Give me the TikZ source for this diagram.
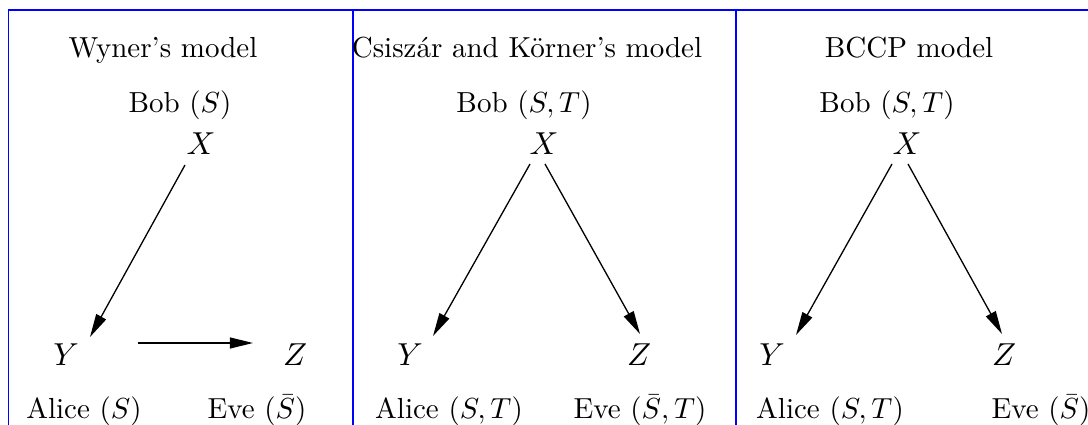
\documentclass[tikz,border=0pt]{standalone}
\usetikzlibrary{arrows.meta,calc}
\begin{document}
\begin{tikzpicture}[x=0.3448pt,y=-0.3448pt,
  lab/.style={anchor=base,inner sep=0pt},
  var/.style={anchor=base,inner sep=0pt,font=\fontsize{11.3}{13}\selectfont},
  arr/.style={line width=0.45pt,-{Triangle[length=8pt,width=3.8pt]}},
  frame/.style={blue,line width=0.45pt}]
\useasboundingbox (0,0) rectangle (1088,425);
\clip (0,0) rectangle (1088,425);
% frame
\draw[frame] (1100,10) -- (8.5,10) -- (8.5,440);
\draw[frame] (353,10) -- (353,440);
\draw[frame] (736,10) -- (736,440);
% Wyner
\node[lab] (t1) at (163,58) {Wyner's model};
\node[lab] (b1) at (180,113) {Bob $(S)$};
\node[var] (x1) at (201,155) {$X$};
\node[var] (y1) at (66,366) {$Y$};
\node[var] (z1) at (295,366) {$Z$};
\node[lab] (a1) at (84,419) {Alice $(S)$};
\node[lab] (e1) at (257,419) {Eve $(\bar S)$};
\draw[arr] ($(x1.base)+(-16,10)$) -- ($(y1.base)+(24,-29)$);
\draw[arr] ($(y1.base)+(72,-23)$) -- ($(z1.base)+(-42,-23)$);
% Csiszar and Korner
\node[lab] (t2) at (527,58) {Csiszár and Körner's model};
\node[lab] (b2) at (524,113) {Bob $(S,T)$};
\node[var] (x2) at (544,155) {$X$};
\node[var] (y2) at (410,366) {$Y$};
\node[var] (z2) at (639,366) {$Z$};
\node[lab] (a2) at (449,419) {Alice $(S,T)$};
\node[lab] (e2) at (640,419) {Eve $(\bar S,T)$};
\draw[arr] ($(x2.base)+(-14,9)$) -- ($(y2.base)+(23,-30)$);
\draw[arr] ($(x2.base)+(1,9)$) -- ($(z2.base)+(1,-32)$);
% BCCP
\node[lab] (t3) at (909,58) {BCCP model};
\node[lab] (b3) at (887,113) {Bob $(S,T)$};
\node[var] (x3) at (907,155) {$X$};
\node[var] (y3) at (772,366) {$Y$};
\node[var] (z3) at (1004,366) {$Z$};
\node[lab] (a3) at (830,419) {Alice $(S,T)$};
\node[lab] (e3) at (1041,419) {Eve $(\bar S)$};
\draw[arr] ($(x3.base)+(-15,9)$) -- ($(y3.base)+(24,-31)$);
\draw[arr] ($(x3.base)+(1,9)$) -- ($(z3.base)+(-2,-32)$);
\end{tikzpicture}
\end{document}
